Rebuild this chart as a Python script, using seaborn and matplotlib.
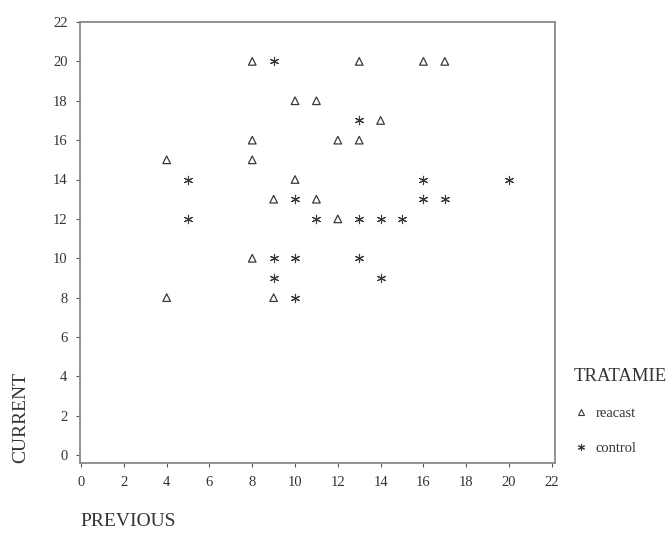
import matplotlib
matplotlib.use("Agg")
import matplotlib.pyplot as plt
from matplotlib.lines import Line2D
import seaborn as sns
import pandas as pd

# data
reacast_prev = [8, 13, 16, 17, 10, 11, 14, 8, 12, 13, 4, 8, 10, 9, 11, 12, 8, 4, 9]
reacast_curr = [20, 20, 20, 20, 18, 18, 17, 16, 16, 16, 15, 15, 14, 13, 13, 12, 10, 8, 8]
control_prev = [9, 13, 5, 16, 20, 10, 16, 17, 5, 11, 13, 14, 15, 9, 10, 13, 9, 14, 10]
control_curr = [20, 17, 14, 14, 14, 13, 13, 13, 12, 12, 12, 12, 12, 10, 10, 10, 9, 9, 8]
groups = ["reacast", "control"]
x_ticks = list(range(0, 23, 2))
y_ticks = list(range(0, 23, 2))

df = pd.DataFrame({
    "PREVIOUS": reacast_prev + control_prev,
    "CURRENT": reacast_curr + control_curr,
    "TRATAMIE": [groups[0]] * len(reacast_prev) + [groups[1]] * len(control_prev),
})

sns.set_theme(style="white")
plt.rcParams["font.family"] = ["Liberation Serif", "DejaVu Serif"]

fig = plt.figure(figsize=(6.72, 5.36), dpi=100)
ax = fig.add_axes([80 / 672, 1 - 463 / 536, 475 / 672, 441 / 536])

mark_col = "#3a3a3a"
asterisk = (6, 2, 0)
sns.scatterplot(data=df[df.TRATAMIE == groups[0]], x="PREVIOUS", y="CURRENT",
                marker="^", s=30, facecolors="none", edgecolor=mark_col,
                linewidth=0.9, ax=ax, legend=False)
sns.scatterplot(data=df[df.TRATAMIE == groups[1]], x="PREVIOUS", y="CURRENT",
                marker=asterisk, s=36, color=mark_col, linewidth=0.8,
                ax=ax, legend=False)

ax.set_xlim(-0.05, 22.15)
ax.set_ylim(-0.4, 22.0)
ax.set_xticks(x_ticks)
ax.set_yticks(y_ticks)
ax.tick_params(axis="both", labelsize=10.5, colors="#555555", length=3,
               width=0.8, direction="out", left=True, bottom=True, pad=6)
for lab in ax.get_xticklabels() + ax.get_yticklabels():
    lab.set_color("#333333")
for sp in ax.spines.values():
    sp.set_color("#8a8a8a")
    sp.set_linewidth(1.3)

ax.set_xlabel("PREVIOUS", loc="left", fontsize=14, color="#333333", labelpad=18)
ax.set_ylabel("CURRENT", loc="bottom", fontsize=14, color="#333333", labelpad=17)

handles = [
    Line2D([], [], marker="^", linestyle="none", markerfacecolor="none",
           markeredgecolor=mark_col, markersize=4.5, markeredgewidth=0.8),
    Line2D([], [], marker=asterisk, linestyle="none", color=mark_col,
           markersize=5, markeredgewidth=0.8),
]
leg = ax.legend(handles, groups, title="TRATAMIE", loc="upper left",
                bbox_to_anchor=(568 / 672, 1 - 362 / 536),
                bbox_transform=fig.transFigure, frameon=False,
                fontsize=10.5, title_fontsize=13.5, labelspacing=1.5,
                handletextpad=0.5, handlelength=1.0, alignment="left",
                borderaxespad=0)
leg.get_title().set_color("#333333")
for t in leg.get_texts():
    t.set_color("#333333")

fig.savefig("out.png", dpi=100, facecolor="white")
